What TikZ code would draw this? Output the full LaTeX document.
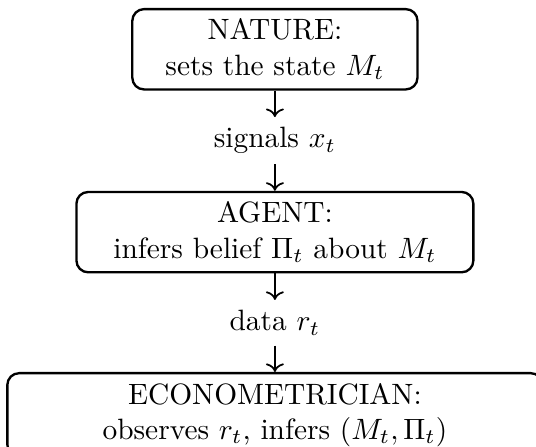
\documentclass[tikz,border=0pt]{standalone}
\usepackage{tikz}
\usetikzlibrary{arrows.meta}
\usetikzlibrary{positioning}
\usepackage{amsmath,amssymb}

\begin{document}
\begin{tikzpicture}[box/.style={draw, thick, rounded corners, align=center}, node distance=9pt]
    \useasboundingbox (-93.5pt,2.7pt) rectangle (88.8pt,-149pt);
    \node[box, minimum width=97pt, anchor=north] (nature) at (0,0) {NATURE:\\ sets the state $M_t$};
    \node[below=of nature] (signals) {signals $x_t$};
    \node[box, minimum width=135pt, below=of signals] (agent) {AGENT:\\ infers belief $\Pi_t$ about $M_t$};
    \node[below=of agent] (data) {data $r_t$};
    \node[box, minimum width=182pt, below=of data] (econ) {ECONOMETRICIAN:\\ observes $r_t$, infers $(M_t,\Pi_t)$};
    \draw[->, semithick] (nature) -- (signals);
    \draw[->, semithick] (signals) -- (agent);
    \draw[->, semithick] (agent) -- (data);
    \draw[->, semithick] (data) -- (econ);
\end{tikzpicture}
\end{document}
